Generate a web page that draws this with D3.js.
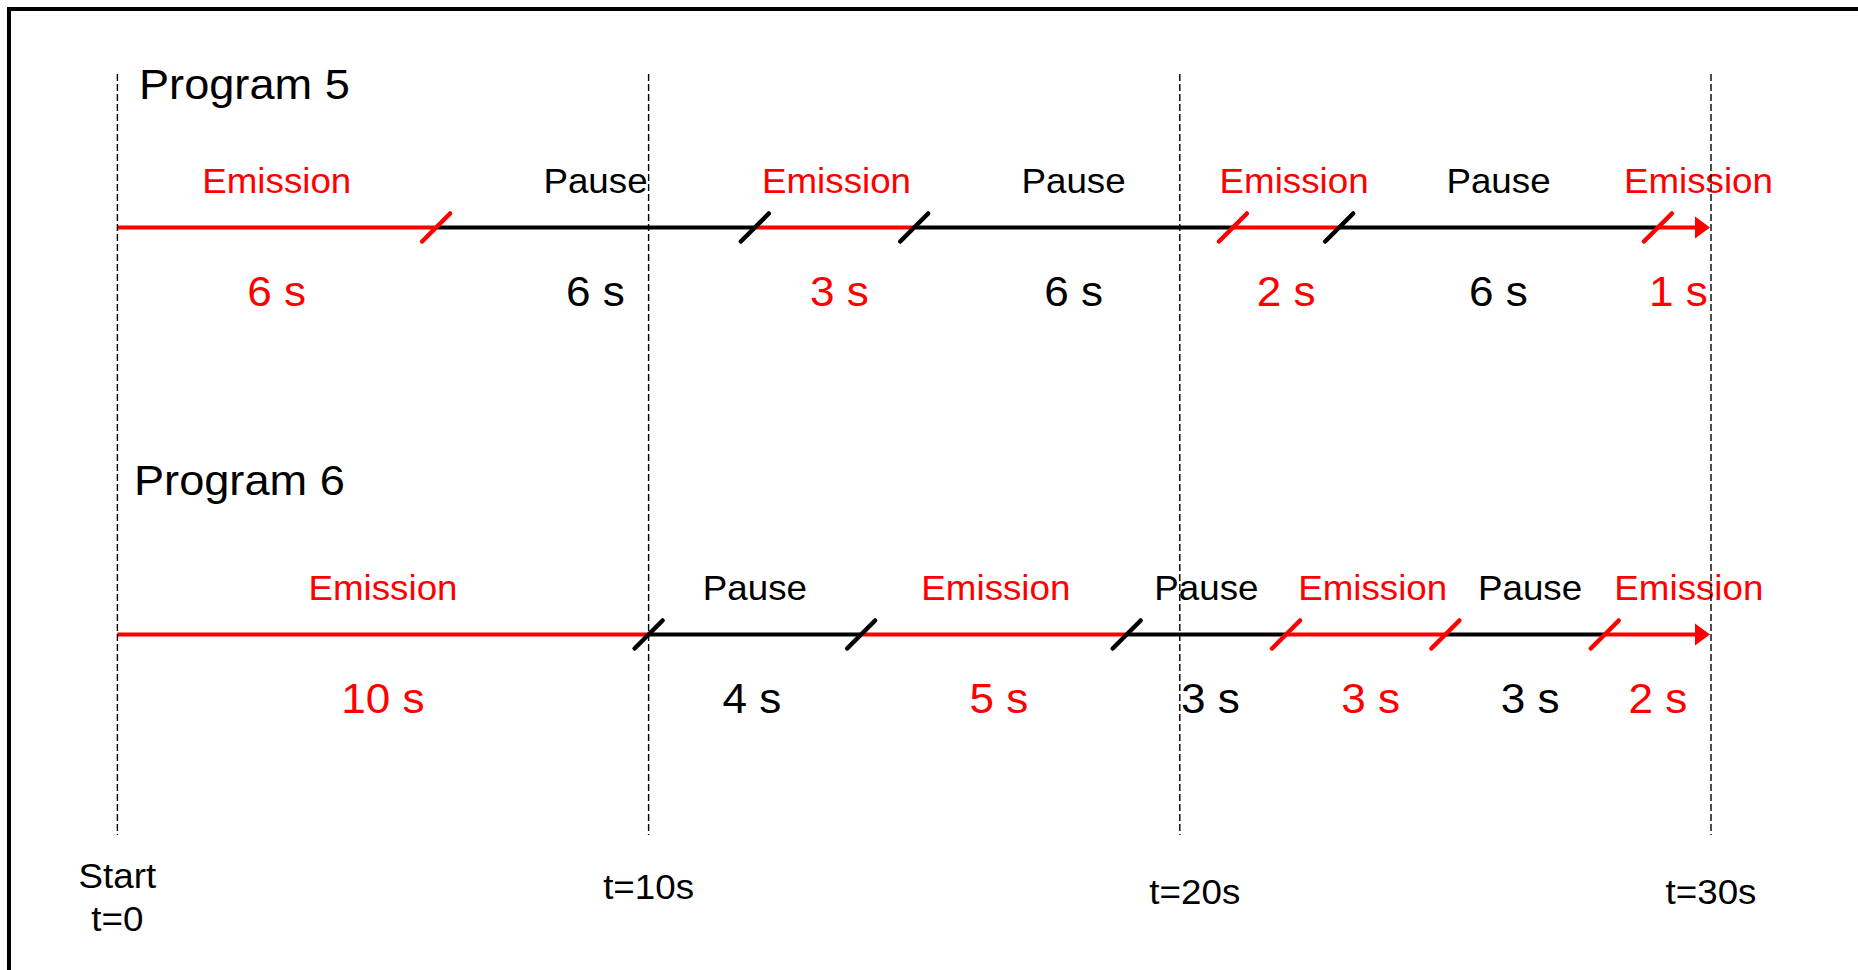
<!DOCTYPE html>
<html>
<head>
<meta charset="utf-8">
<script src="https://cdn.jsdelivr.net/npm/d3@7"></script>
<style>
  html, body { margin: 0; padding: 0; background: #fff; }
  svg { display: block; }
  text { font-family: "Liberation Sans", Arial, sans-serif; }
</style>
</head>
<body>
<svg id="chart" width="1858" height="970"></svg>
<script>
// ---------------- data ----------------
const programNames = ["Program 5", "Program 6"];
const p5States = ["Emission", "Pause", "Emission", "Pause", "Emission", "Pause", "Emission"];
const p5Durations = [6, 6, 3, 6, 2, 6, 1];
const p6States = ["Emission", "Pause", "Emission", "Pause", "Emission", "Pause", "Emission"];
const p6Durations = [10, 4, 5, 3, 3, 3, 2];
const timeTicks = [0, 10, 20, 30];
const tickLabels = [["Start", "t=0"], ["t=10s"], ["t=20s"], ["t=30s"]];

// ---------------- styles / layout ----------------
const stateColor = { "Emission": "#ff0000", "Pause": "#000000" };
const p5BreakColors = ["#ff0000", "#000000", "#000000", "#ff0000", "#000000", "#ff0000"];
const p6BreakColors = ["#000000", "#000000", "#000000", "#ff0000", "#ff0000", "#ff0000"];
const p5LabelNudge = [0, 0, 2, 0, 8, 0, 14];
const p6LabelNudge = [0, 0, 2, 0, 7, 5, 31];
const p5DurNudge = [0, 0, 5, 0, 0, 0, -6];
const p6DurNudge = [0, -3, 5, 4, 5, 5, 0];
const tickNudgeX = [0, 0, 15, 0];
const tickBaselines = [[888, 931], [899], [904], [904]];
const STRETCH = 1.05;

const layout = [
  { name: programNames[0], states: p5States, durations: p5Durations, breaks: p5BreakColors,
    nudge: p5LabelNudge, durNudge: p5DurNudge, lineY: 227.5, titleX: 139, titleY: 99 },
  { name: programNames[1], states: p6States, durations: p6Durations, breaks: p6BreakColors,
    nudge: p6LabelNudge, durNudge: p6DurNudge, lineY: 634.5, titleX: 134, titleY: 495 }
];

const svg = d3.select("#chart");
const x = d3.scaleLinear().domain([0, 30]).range([117.4, 1711]);

// place text with slight horizontal stretch
function placeText(sel, fx, fy) {
  sel.attr("x", 0).attr("y", 0)
     .attr("transform", (d, i) => `translate(${fx(d, i)},${fy(d, i)}) scale(${STRETCH},1)`);
}

// frame
svg.append("rect")
  .attr("x", 9).attr("y", 9).attr("width", 1900).attr("height", 1000)
  .attr("fill", "none").attr("stroke", "#000").attr("stroke-width", 4);

const arrowLen = 15, arrowHalf = 11;

layout.forEach(p => {
  const g = svg.append("g");
  let acc = 0;
  const segs = p.durations.map((d, i) => {
    const s = { start: acc, end: acc + d, dur: d, state: p.states[i], i };
    acc += d;
    return s;
  });
  const total = acc;

  // title
  g.append("text")
    .attr("font-size", 43).attr("fill", "#000")
    .text(p.name)
    .call(placeText, () => p.titleX, () => p.titleY);

  // segment lines
  g.selectAll("line.seg").data(segs).join("line")
    .attr("class", "seg")
    .attr("x1", d => x(d.start))
    .attr("x2", d => d.end === total ? x(d.end) - arrowLen + 1 : x(d.end))
    .attr("y1", p.lineY).attr("y2", p.lineY)
    .attr("stroke", d => stateColor[d.state])
    .attr("stroke-width", 4);

  // arrow head
  const last = segs[segs.length - 1];
  const tip = x(total) - 1;
  g.append("path")
    .attr("d", `M${tip},${p.lineY} L${tip - arrowLen},${p.lineY - arrowHalf} L${tip - arrowLen},${p.lineY + arrowHalf} Z`)
    .attr("fill", stateColor[last.state]);

  // break slashes
  const breaks = segs.slice(0, -1).map((d, i) => ({ t: d.end, color: p.breaks[i] }));
  g.selectAll("line.brk").data(breaks).join("line")
    .attr("class", "brk")
    .attr("x1", d => x(d.t) - 14).attr("y1", p.lineY + 14)
    .attr("x2", d => x(d.t) + 14).attr("y2", p.lineY - 14)
    .attr("stroke", d => d.color)
    .attr("stroke-width", 4.5)
    .attr("stroke-linecap", "round");

  // state labels
  g.selectAll("text.state").data(segs).join("text")
    .attr("class", "state")
    .attr("text-anchor", "middle")
    .attr("font-size", 35)
    .attr("fill", d => stateColor[d.state])
    .text(d => d.state)
    .call(placeText, d => x((d.start + d.end) / 2) + p.nudge[d.i], () => p.lineY - 35);

  // duration labels
  g.selectAll("text.dur").data(segs).join("text")
    .attr("class", "dur")
    .attr("text-anchor", "middle")
    .attr("font-size", 42)
    .attr("fill", d => stateColor[d.state])
    .text(d => d.dur + " s")
    .call(placeText, d => x((d.start + d.end) / 2) + p.durNudge[d.i], () => p.lineY + 78.5);
});

// tick labels
timeTicks.forEach((t, i) => {
  tickLabels[i].forEach((lab, j) => {
    svg.append("text")
      .attr("text-anchor", "middle")
      .attr("font-size", 35)
      .attr("fill", "#000")
      .text(lab)
      .call(placeText, () => x(t) + tickNudgeX[i], () => tickBaselines[i][j]);
  });
});

// dashed time markers (drawn on top, as in the reference)
svg.selectAll("line.tick").data(timeTicks).join("line")
  .attr("class", "tick")
  .attr("x1", d => x(d)).attr("x2", d => x(d))
  .attr("y1", 74).attr("y2", 835)
  .attr("stroke", "#000").attr("stroke-width", 1.4)
  .attr("stroke-dasharray", "7,3");
</script>
</body>
</html>
